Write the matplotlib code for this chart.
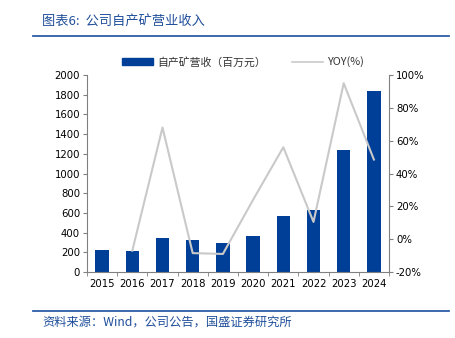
import matplotlib
matplotlib.use("Agg")
import matplotlib.pyplot as plt
import numpy as np
from matplotlib.lines import Line2D
from matplotlib.patches import Patch

plt.rcParams['font.family'] = ['DejaVu Sans', 'Noto Sans CJK SC']

years = ['2015', '2016', '2017', '2018', '2019', '2020', '2021', '2022', '2023', '2024']
revenue = [220, 210, 350, 320, 290, 365, 572, 633, 1235, 1834]
yoy = [np.nan, -7, 68, -8.5, -9, 24, 56, 10.5, 95, 48.5]
left_ticks = [0, 200, 400, 600, 800, 1000, 1200, 1400, 1600, 1800, 2000]
right_ticks = [-20, 0, 20, 40, 60, 80, 100]

bar_color = '#003f98'
line_color = '#c9c9c9'
blue_text = '#1f4e9a'
spine_color = '#808080'

fig = plt.figure(figsize=(4.55, 3.38), dpi=100)
ax = fig.add_axes([87/455, 66/338, (389-87)/455, (272-75)/338])
x = np.arange(len(years))
ax.bar(x, revenue, width=0.44, color=bar_color, zorder=2)
ax.set_xlim(-0.5, len(years) - 0.5)
ax.set_ylim(0, 2000)
ax.set_yticks(left_ticks)
ax.set_yticklabels([str(v) for v in left_ticks], fontsize=7.3)
ax.set_xticks(x)
ax.set_xticklabels(years, fontsize=7.3)
ax.tick_params(axis='x', length=0, pad=5)
ax.set_xticks(np.arange(-0.5, len(years)), minor=True)
ax.tick_params(axis='x', which='minor', length=3, color=spine_color, direction='out')
ax.tick_params(axis='y', length=3, color=spine_color, direction='out', pad=2)
for s in ['top', 'right']:
    ax.spines[s].set_visible(False)
for s in ['left', 'bottom']:
    ax.spines[s].set_color(spine_color)
    ax.spines[s].set_linewidth(0.8)

ax2 = ax.twinx()
ax2.plot(x, yoy, color=line_color, linewidth=1.5, zorder=3)
ax2.set_ylim(-20, 100)
ax2.set_yticks(right_ticks)
ax2.set_yticklabels([f'{v}%' for v in right_ticks], fontsize=7.3)
ax2.tick_params(axis='y', length=3, color=spine_color, direction='out', pad=2)
for s in ['top', 'left', 'bottom']:
    ax2.spines[s].set_visible(False)
ax2.spines['right'].set_color(spine_color)
ax2.spines['right'].set_linewidth(0.8)

handles = [Patch(color=bar_color), Line2D([0], [0], color=line_color, linewidth=1.2)]
labels = ['自产矿营收（百万元）', 'YOY(%)']
leg = fig.legend(handles, labels, loc='center left', bbox_to_anchor=(112/455, (338-62)/338), ncol=2,
                 frameon=False, handlelength=2.9, handleheight=0.6,
                 columnspacing=2.4, handletextpad=0.35,
                 prop={'family': ['Noto Sans CJK SC', 'DejaVu Sans'], 'size': 7.8})
for t in leg.get_texts():
    t.set_color('#333333')

# header and footer rules
fig.add_artist(Line2D([33/455, 449/455], [1-36/338, 1-36/338], color='#2e5da8', linewidth=1.3))
fig.add_artist(Line2D([33/455, 449/455], [1-311/338, 1-311/338], color='#2e5da8', linewidth=1.3))

fig.text(42/455, 1-22/338, '图表6:  公司自产矿营业收入', fontsize=9.5, color=blue_text,
         family=['Noto Sans CJK SC', 'DejaVu Sans'], style='italic', va='center', ha='left')
fig.text(42/455, 1-322/338, '资料来源：Wind，公司公告，国盛证券研究所', fontsize=8.8, color=blue_text,
         family=['Noto Sans CJK SC', 'DejaVu Sans'], style='italic', va='center', ha='left')

fig.savefig('out.png', dpi=100)
